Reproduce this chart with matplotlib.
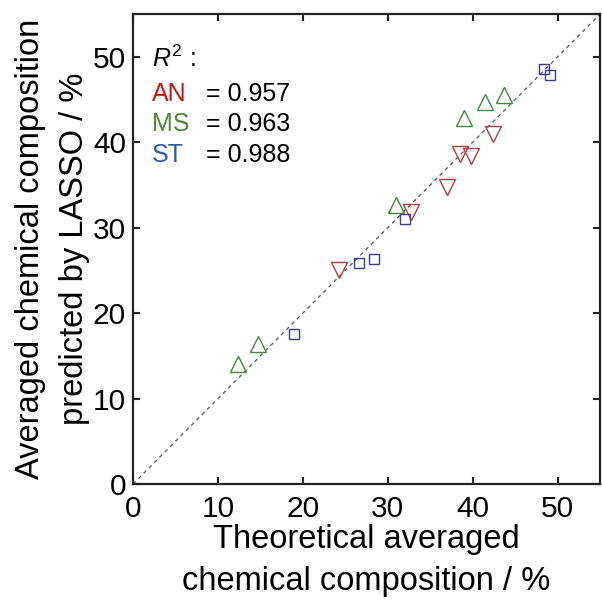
import matplotlib
matplotlib.use("Agg")
import matplotlib.pyplot as plt

plt.rcParams['font.family'] = ['Liberation Sans', 'DejaVu Sans']
plt.rcParams['mathtext.fontset'] = 'custom'
plt.rcParams['mathtext.it'] = 'Liberation Sans:italic'
plt.rcParams['mathtext.rm'] = 'Liberation Sans'

# Theoretical (x) vs. LASSO-predicted (y) averaged composition, %
an_theory = [24.3, 32.7, 37.0, 38.5, 39.8, 42.4]
an_pred = [25.0, 31.8, 34.7, 38.6, 38.4, 41.0]
ms_theory = [12.4, 14.7, 31.0, 39.0, 41.4, 43.7]
ms_pred = [14.0, 16.4, 32.7, 42.8, 44.7, 45.5]
st_theory = [18.9, 26.6, 28.4, 32.0, 48.4, 49.1]
st_pred = [17.6, 25.9, 26.3, 31.0, 48.6, 47.9]

groups = ["AN", "MS", "ST"]
r2_values = ["0.957", "0.963", "0.988"]
ticks = [0, 10, 20, 30, 40, 50]
limits = [0, 55]

marker_colors = {"AN": "#b23c3c", "MS": "#3e8c3e", "ST": "#3b3b9c"}
text_colors = {"AN": "#c81414", "MS": "#4a8a34", "ST": "#2f5aa8"}

fig = plt.figure(figsize=(6.02, 6.08), dpi=100)
ax = fig.add_axes([0.221, 0.204, 0.776, 0.773])

ax.plot(limits, limits, linestyle=(0, (3, 3)), color="#555555", linewidth=0.9, zorder=1)

ax.plot(an_theory, an_pred, linestyle="none", marker="v", markersize=11,
        markerfacecolor="none", markeredgecolor=marker_colors["AN"], markeredgewidth=1.0, zorder=3)
ax.plot(ms_theory, ms_pred, linestyle="none", marker="^", markersize=11,
        markerfacecolor="none", markeredgecolor=marker_colors["MS"], markeredgewidth=1.0, zorder=3)
ax.plot(st_theory, st_pred, linestyle="none", marker="s", markersize=7.2,
        markerfacecolor="none", markeredgecolor=marker_colors["ST"], markeredgewidth=1.0, zorder=3)

ax.set_xlim(limits)
ax.set_ylim(limits)
ax.set_xticks(ticks)
ax.set_yticks(ticks)
ax.tick_params(direction="in", length=5, width=1.5, labelsize=21.5,
               top=True, right=True, color="#222222")
ax.tick_params(axis="x", pad=8)
ax.tick_params(axis="y", pad=5)
for s in ax.spines.values():
    s.set_linewidth(1.6)
    s.set_color("#222222")

ax.set_xlabel("Theoretical averaged\nchemical composition / %", fontsize=23.5,
              linespacing=1.45, labelpad=1)
ax.set_ylabel("Averaged chemical composition\npredicted by LASSO / %", fontsize=23.5,
              linespacing=1.55, labelpad=2)

# R² summary block
ax.text(2.2, 48.8, r"$R^2$ :", fontsize=18, color="black", va="baseline")
y0 = 44.8
dy = 3.55
for i, (g, r) in enumerate(zip(groups, r2_values)):
    yy = y0 - i * dy
    ax.text(2.2, yy, g, fontsize=18, color=text_colors[g], va="baseline")
    ax.text(8.6, yy, "= " + r, fontsize=18, color="black", va="baseline")

fig.savefig("out.png", dpi=100)
